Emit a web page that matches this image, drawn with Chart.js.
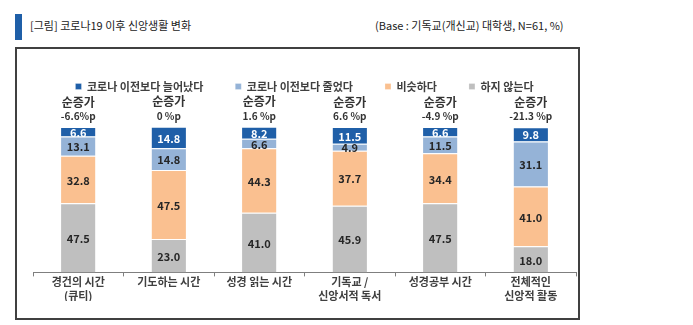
<!DOCTYPE html>
<html>
<head>
<meta charset="utf-8">
<script src="https://cdn.jsdelivr.net/npm/chart.js@4"></script>
<style>
  body { margin: 0; background: #fff; font-family: "Noto Sans CJK KR", sans-serif; }
  .page { position: relative; width: 693px; height: 325px; }
  .mark { position: absolute; left: 15px; top: 14px; width: 7px; height: 26px; background: #1f5fa8; }
  .title { position: absolute; left: 30px; top: 17px; font-size: 11px; color: #222; }
  .base { position: absolute; left: 375px; top: 17px; font-size: 11px; color: #222; }
  .frame { position: absolute; left: 15px; top: 47px; width: 561px; height: 269px; border: 2px solid #404040; }
  .frame canvas { position: absolute; left: 0; top: 0; }
</style>
</head>
<body>
<div class="page">
  <div class="mark"></div>
  <div class="title">[그림] 코로나19 이후 신앙생활 변화</div>
  <div class="base">(Base : 기독교(개신교) 대학생, N=61, %)</div>
  <div class="frame"><canvas id="chart" width="561" height="269"></canvas></div>
</div>
<script>
// categories and values
const categories = [
    ['경건의 시간', '(큐티)'],
    ['기도하는 시간'],
    ['성경 읽는 시간'],
    ['기독교 /', '신앙서적 독서'],
    ['성경공부 시간'],
    ['전체적인', '신앙적 활동']
];
const notDoing = [47.5, 23.0, 41.0, 45.9, 47.5, 18.0];
const similar = [32.8, 47.5, 44.3, 37.7, 34.4, 41.0];
const decreased = [13.1, 14.8, 6.6, 4.9, 11.5, 31.1];
const increased = [6.6, 14.8, 8.2, 11.5, 6.6, 9.8];
const netLabels = ['-6.6%p', '0 %p', '1.6 %p', '6.6 %p', '-4.9 %p', '-21.3 %p'];

const FONT = '"Noto Sans CJK KR", sans-serif';

// value labels inside segments + "순증가" header above each bar
const barLabels = {
    id: 'barLabels',
    afterDatasetsDraw(chart) {
        const ctx = chart.ctx;
        ctx.save();
        ctx.textAlign = 'center';
        ctx.textBaseline = 'middle';
        ctx.font = 'bold 11px ' + FONT;
        chart.data.datasets.forEach((ds, i) => {
            const meta = chart.getDatasetMeta(i);
            meta.data.forEach((bar, j) => {
                const midY = (bar.y + bar.base) / 2;
                ctx.fillStyle = i === 3 ? '#ffffff' : '#262626';
                ctx.fillText(ds.data[j].toFixed(1), bar.x, midY + 1);
            });
        });
        const top = chart.getDatasetMeta(3).data;
        top.forEach((bar, j) => {
            ctx.fillStyle = '#333';
            ctx.font = 'bold 12px ' + FONT;
            ctx.fillText('순증가', bar.x, bar.y - 25);
            ctx.font = 'bold 10px ' + FONT;
            ctx.fillText(netLabels[j], bar.x, bar.y - 11);
        });
        ctx.restore();
    }
};

// push the plot down below the legend
const legendGap = {
    id: 'legendGap',
    beforeInit(chart) {
        const fit = chart.legend.fit;
        chart.legend.fit = function () {
            fit.bind(chart.legend)();
            this.height += 25;
        };
    }
};

new Chart(document.getElementById('chart'), {
    type: 'bar',
    data: {
        labels: categories,
        datasets: [
            { label: '하지 않는다', data: notDoing, backgroundColor: '#bfbfbf' },
            { label: '비슷하다', data: similar, backgroundColor: '#fac090' },
            { label: '코로나 이전보다 줄었다', data: decreased, backgroundColor: '#95b3d7' },
            { label: '코로나 이전보다 늘어났다', data: increased, backgroundColor: '#1f5fa8' }
        ].map(d => Object.assign(d, {
            borderColor: '#ffffff',
            borderWidth: { top: 1, bottom: 0, left: 0, right: 0 },
            borderSkipped: false,
            barPercentage: 0.38,
            categoryPercentage: 1
        }))
    },
    options: {
        responsive: false,
        animation: false,
        layout: { padding: { top: 0, left: 16, right: 2, bottom: 17 } },
        plugins: {
            legend: {
                reverse: true,
                labels: {
                    boxWidth: 6,
                    boxHeight: 6,
                    padding: 32,
                    color: '#404040',
                    font: { family: FONT, size: 11, weight: 'bold' }
                }
            },
            tooltip: { enabled: false }
        },
        scales: {
            x: {
                stacked: true,
                grid: { drawOnChartArea: false, tickLength: 4, color: '#7f7f7f' },
                border: { color: '#7f7f7f' },
                ticks: {
                    color: '#404040',
                    padding: -2,
                    maxRotation: 0,
                    autoSkip: false,
                    font: { family: FONT, size: 11, weight: 'bold', lineHeight: 1.3 }
                }
            },
            y: {
                stacked: true,
                display: false,
                min: 0,
                max: 100
            }
        }
    },
    plugins: [barLabels, legendGap]
});
</script>
</body>
</html>
